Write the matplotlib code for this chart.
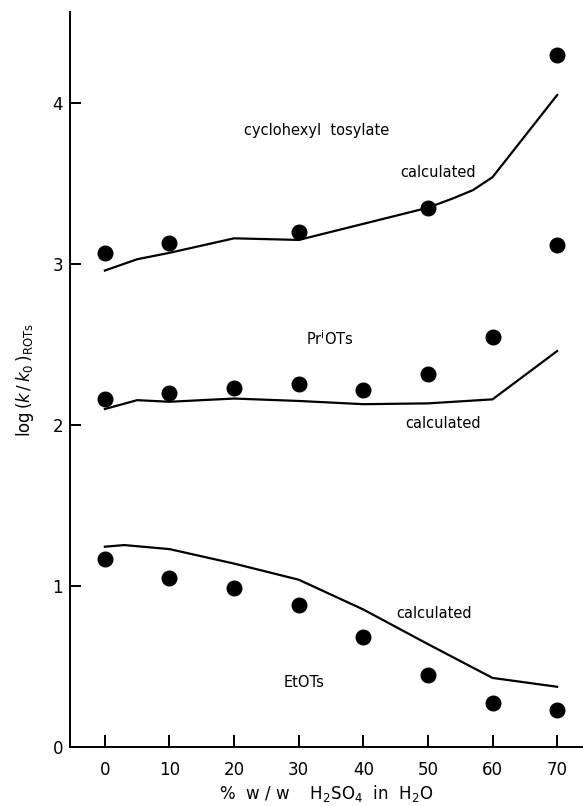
import matplotlib.pyplot as plt

# observed points
conc = [0, 10, 20, 30, 40, 50, 60, 70]
cyclohexyl_x = [0, 10, 30, 50, 70]
cyclohexyl_obs = [3.07, 3.13, 3.20, 3.35, 4.30]
pr_obs = [2.165, 2.20, 2.23, 2.255, 2.22, 2.32, 2.55, 3.12]
et_obs = [1.17, 1.05, 0.99, 0.88, 0.685, 0.447, 0.275, 0.23]

# calculated curves
cyclohexyl_calc_x = [0, 5, 10, 20, 30, 40, 50, 54, 57, 60, 70]
cyclohexyl_calc = [2.96, 3.03, 3.07, 3.16, 3.15, 3.25, 3.35, 3.41, 3.46, 3.54, 4.05]
pr_calc_x = [0, 5, 10, 20, 30, 40, 50, 60, 70]
pr_calc = [2.10, 2.155, 2.145, 2.165, 2.15, 2.13, 2.135, 2.16, 2.46]
et_calc_x = [0, 3, 10, 20, 30, 40, 50, 60, 70]
et_calc = [1.245, 1.255, 1.23, 1.14, 1.04, 0.855, 0.64, 0.43, 0.375]


def main():
    fig = plt.figure(figsize=(5.83, 8.06), dpi=100)
    ax = fig.add_axes([0.12, 0.073, 0.88, 0.912])

    ax.plot(cyclohexyl_calc_x, cyclohexyl_calc, color="black", lw=1.6)
    ax.plot(pr_calc_x, pr_calc, color="black", lw=1.6)
    ax.plot(et_calc_x, et_calc, color="black", lw=1.6)

    ax.plot(cyclohexyl_x, cyclohexyl_obs, "o", color="black", ms=10.5)
    ax.plot(conc, pr_obs, "o", color="black", ms=10.5)
    ax.plot(conc, et_obs, "o", color="black", ms=10.5)

    fs = 10.5
    ax.text(32.8, 3.83, "cyclohexyl  tosylate", fontsize=fs, ha="center", va="center")
    ax.text(51.5, 3.57, "calculated", fontsize=fs, ha="center", va="center")
    ax.text(34.9, 2.54, r"Pr$^{\rm i}$OTs", fontsize=fs, ha="center", va="center")
    ax.text(52.3, 2.01, "calculated", fontsize=fs, ha="center", va="center")
    ax.text(51.0, 0.83, "calculated", fontsize=fs, ha="center", va="center")
    ax.text(30.8, 0.40, "EtOTs", fontsize=fs, ha="center", va="center")

    ax.set_xlim(-5.4, 74)
    ax.set_ylim(0, 4.565)
    ax.set_xticks(conc)
    ax.set_yticks([0, 1, 2, 3, 4])
    ax.spines["top"].set_visible(False)
    ax.spines["right"].set_visible(False)
    ax.spines["left"].set_linewidth(1.4)
    ax.spines["bottom"].set_linewidth(1.4)
    ax.tick_params(axis="x", direction="in", length=9, width=1.4, labelsize=12, pad=10)
    ax.tick_params(axis="y", direction="in", length=8, width=1.4, labelsize=12, pad=5)

    ax.set_xlabel(r"%  w / w    H$_2$SO$_4$  in  H$_2$O", fontsize=12, labelpad=3)
    ax.set_ylabel(r"log$\,(k\,/\,k_0\,)_{\rm ROTs}$", fontsize=12, labelpad=12)

    fig.savefig("out.png", dpi=100)


if __name__ == '__main__':
    main()
